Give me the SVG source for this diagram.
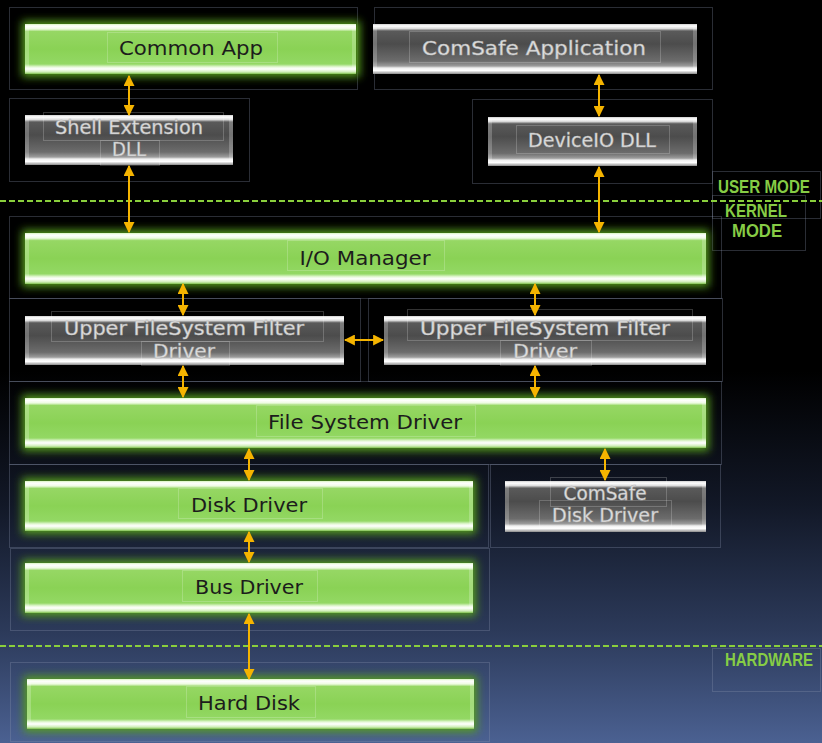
<svg xmlns="http://www.w3.org/2000/svg" width="822" height="743" viewBox="0 0 822 743">
<style>
.frame{fill:none;stroke:#8a96b0;stroke-opacity:0.3;stroke-width:1}
.lf{fill:none;stroke:#ffffff;stroke-opacity:0.2;stroke-width:1}
.gt{font-family:"DejaVu Sans","Open Sans",sans-serif;font-size:20px;fill:#1c1c1c;text-anchor:middle}
.wt{font-family:"DejaVu Sans","Open Sans",sans-serif;font-size:20px;fill:#e2e2e2;stroke:#b0b0b0;stroke-width:0.5;text-anchor:middle}
.mode{font-family:"Liberation Sans Narrow","Liberation Sans",sans-serif;font-weight:bold;font-size:15px;fill:#86cc45;text-anchor:middle}
.dash{stroke:#8acf3c;stroke-width:2;stroke-dasharray:6 3;fill:none}
.arr{stroke:#f5b400;stroke-width:2;fill:none;marker-start:url(#ah);marker-end:url(#ah)}
.glow{fill:#559c1e;filter:url(#blur)}
.edge{fill:#ffffff;fill-opacity:0.22}
</style>
<defs>
<linearGradient id="bg" x1="0" y1="0" x2="0" y2="1">
<stop offset="0" stop-color="#000000"/>
<stop offset="0.5" stop-color="#000000"/>
<stop offset="0.68" stop-color="#121827"/>
<stop offset="0.85" stop-color="#2c3a5a"/>
<stop offset="1" stop-color="#4b6192"/>
</linearGradient>
<linearGradient id="gG" x1="0" y1="0" x2="0" y2="1">
<stop offset="0" stop-color="#d8f5c0"/>
<stop offset="0.04" stop-color="#ffffff"/>
<stop offset="0.10" stop-color="#eefbe2"/>
<stop offset="0.15" stop-color="#96d764"/>
<stop offset="0.5" stop-color="#8ad255"/>
<stop offset="0.8" stop-color="#93d864"/>
<stop offset="0.86" stop-color="#e6f8d8"/>
<stop offset="0.9" stop-color="#ffffff"/>
<stop offset="0.96" stop-color="#d0efb8"/>
<stop offset="1" stop-color="#7dbf4c"/>
</linearGradient>
<linearGradient id="gY" x1="0" y1="0" x2="0" y2="1">
<stop offset="0" stop-color="#cfcfcf"/>
<stop offset="0.04" stop-color="#ffffff"/>
<stop offset="0.09" stop-color="#dedede"/>
<stop offset="0.14" stop-color="#5a5a5a"/>
<stop offset="0.4" stop-color="#4c4c4c"/>
<stop offset="0.74" stop-color="#6c6c6c"/>
<stop offset="0.84" stop-color="#9c9c9c"/>
<stop offset="0.88" stop-color="#f0f0f0"/>
<stop offset="0.93" stop-color="#ffffff"/>
<stop offset="1" stop-color="#8a8a8a"/>
</linearGradient>
<filter id="blur" x="-10%" y="-50%" width="120%" height="200%">
<feGaussianBlur stdDeviation="4"/>
</filter>
<marker id="ah" viewBox="0 0 10 10" markerWidth="11" markerHeight="11" markerUnits="userSpaceOnUse" refX="9" refY="5" orient="auto-start-reverse">
<path d="M0,0 L10,5 L0,10 z" fill="#f5b400"/>
</marker>
</defs>

<rect x="0" y="0" width="822" height="743" fill="url(#bg)"/>

<g id="frames">
<rect class="frame" x="9.5" y="7.5" width="348" height="82"/>
<rect class="frame" x="374.5" y="7.5" width="338" height="82"/>
<rect class="frame" x="9.5" y="98.5" width="240" height="83"/>
<rect class="frame" x="472.5" y="99.5" width="240" height="84"/>
<rect class="frame" x="712.5" y="171.5" width="108" height="47"/>
<rect class="frame" x="712.5" y="195.5" width="93" height="55"/>
<rect class="frame" x="9.5" y="216.5" width="712" height="82"/>
<rect class="frame" x="9.5" y="298.5" width="351" height="83"/>
<rect class="frame" x="368.5" y="298.5" width="354" height="83"/>
<rect class="frame" x="9.5" y="381.5" width="712" height="83"/>
<rect class="frame" x="9.5" y="464.5" width="479" height="83"/>
<rect class="frame" x="490.5" y="464.5" width="230" height="83"/>
<rect class="frame" x="10.5" y="548.5" width="479" height="82"/>
<rect class="frame" x="10.5" y="662.5" width="479" height="79"/>
<rect class="frame" x="712.5" y="648.5" width="108" height="43"/>
</g>

<g id="dividers">
<line class="dash" x1="0" y1="201" x2="822" y2="201"/>
<line class="dash" x1="0" y1="646" x2="822" y2="646"/>
</g>

<g id="labels">
<text class="mode" transform="translate(764,193) scale(1,1.2)" x="0" y="0" textLength="92" lengthAdjust="spacingAndGlyphs">USER MODE</text>
<text class="mode" transform="translate(756,217) scale(1,1.2)" x="0" y="0" textLength="62" lengthAdjust="spacingAndGlyphs">KERNEL</text>
<text class="mode" transform="translate(757,237) scale(1,1.2)" x="0" y="0" textLength="50" lengthAdjust="spacingAndGlyphs">MODE</text>
<text class="mode" transform="translate(769,666) scale(1,1.2)" x="0" y="0" textLength="88" lengthAdjust="spacingAndGlyphs">HARDWARE</text>
</g>

<g id="common-app">
<rect class="glow" x="22" y="21" width="338" height="56"/>
<rect x="25" y="24" width="331" height="50" fill="url(#gG)"/>
<rect class="edge" x="25" y="27" width="4" height="43"/><rect class="edge" x="352" y="27" width="4" height="43"/>
<rect class="lf" x="107.5" y="32.5" width="170" height="30"/>
<text class="gt" x="191" y="55" textLength="144" lengthAdjust="spacingAndGlyphs">Common App</text>
</g>

<g id="comsafe-app">
<rect x="373" y="24" width="324" height="50" fill="url(#gY)"/>
<rect class="edge" x="373" y="27" width="4" height="43"/><rect class="edge" x="693" y="27" width="4" height="43"/>
<rect class="lf" x="409.5" y="31.5" width="251" height="31"/>
<text class="wt" x="534" y="55" textLength="224" lengthAdjust="spacingAndGlyphs">ComSafe Application</text>
</g>

<g id="shell-ext">
<rect x="25" y="115" width="208" height="50" fill="url(#gY)"/>
<rect class="edge" x="25" y="118" width="4" height="43"/><rect class="edge" x="229" y="118" width="4" height="43"/>
<rect class="lf" x="43.5" y="112.5" width="180" height="28"/>
<rect class="lf" x="100.5" y="140.5" width="59" height="25"/>
<text class="wt" x="129" y="134" textLength="148" lengthAdjust="spacingAndGlyphs">Shell Extension</text>
<text class="wt" x="129" y="156" textLength="34" lengthAdjust="spacingAndGlyphs">DLL</text>
</g>

<g id="deviceio-dll">
<rect x="488" y="117" width="209" height="49" fill="url(#gY)"/>
<rect class="edge" x="488" y="120" width="4" height="42"/><rect class="edge" x="693" y="120" width="4" height="42"/>
<rect class="lf" x="516.5" y="125.5" width="153" height="28"/>
<text class="wt" x="592" y="147" textLength="128" lengthAdjust="spacingAndGlyphs">DeviceIO DLL</text>
</g>

<g id="io-manager">
<rect class="glow" x="22" y="230" width="687" height="57"/>
<rect x="25" y="233" width="681" height="51" fill="url(#gG)"/>
<rect class="edge" x="25" y="236" width="4" height="44"/><rect class="edge" x="702" y="236" width="4" height="44"/>
<rect class="lf" x="287.5" y="240.5" width="157" height="30"/>
<text class="gt" x="365" y="265" textLength="131" lengthAdjust="spacingAndGlyphs">I/O Manager</text>
</g>

<g id="upper-filter-left">
<rect x="25" y="316" width="319" height="49" fill="url(#gY)"/>
<rect class="edge" x="25" y="319" width="4" height="42"/><rect class="edge" x="340" y="319" width="4" height="42"/>
<rect class="lf" x="51.5" y="311.5" width="272" height="30"/>
<rect class="lf" x="141.5" y="341.5" width="88" height="24"/>
<text class="wt" x="184" y="335" textLength="240" lengthAdjust="spacingAndGlyphs">Upper FileSystem Filter</text>
<text class="wt" x="184" y="358" textLength="62" lengthAdjust="spacingAndGlyphs">Driver</text>
</g>

<g id="upper-filter-right">
<rect x="384" y="316" width="322" height="49" fill="url(#gY)"/>
<rect class="edge" x="384" y="319" width="4" height="42"/><rect class="edge" x="702" y="319" width="4" height="42"/>
<rect class="lf" x="407.5" y="309.5" width="285" height="31"/>
<rect class="lf" x="500.5" y="340.5" width="91" height="25"/>
<text class="wt" x="545" y="335" textLength="250" lengthAdjust="spacingAndGlyphs">Upper FileSystem Filter</text>
<text class="wt" x="545" y="358" textLength="64" lengthAdjust="spacingAndGlyphs">Driver</text>
</g>

<g id="file-system-driver">
<rect class="glow" x="22" y="395" width="687" height="56"/>
<rect x="25" y="398" width="681" height="50" fill="url(#gG)"/>
<rect class="edge" x="25" y="401" width="4" height="43"/><rect class="edge" x="702" y="401" width="4" height="43"/>
<rect class="lf" x="256.5" y="405.5" width="219" height="31"/>
<text class="gt" x="365" y="429" textLength="194" lengthAdjust="spacingAndGlyphs">File System Driver</text>
</g>

<g id="disk-driver">
<rect class="glow" x="22" y="478" width="454" height="56"/>
<rect x="25" y="481" width="448" height="50" fill="url(#gG)"/>
<rect class="edge" x="25" y="484" width="4" height="43"/><rect class="edge" x="469" y="484" width="4" height="43"/>
<rect class="lf" x="178.5" y="488.5" width="144" height="30"/>
<text class="gt" x="249" y="512" textLength="116" lengthAdjust="spacingAndGlyphs">Disk Driver</text>
</g>

<g id="comsafe-disk-driver">
<rect x="505" y="481" width="201" height="51" fill="url(#gY)"/>
<rect class="edge" x="505" y="484" width="4" height="44"/><rect class="edge" x="702" y="484" width="4" height="44"/>
<rect class="lf" x="550.5" y="477.5" width="116" height="29"/>
<rect class="lf" x="539.5" y="500.5" width="132" height="27"/>
<text class="wt" x="605" y="500" textLength="83" lengthAdjust="spacingAndGlyphs">ComSafe</text>
<text class="wt" x="605" y="522" textLength="106" lengthAdjust="spacingAndGlyphs">Disk Driver</text>
</g>

<g id="bus-driver">
<rect class="glow" x="22" y="560" width="454" height="56"/>
<rect x="25" y="563" width="448" height="50" fill="url(#gG)"/>
<rect class="edge" x="25" y="566" width="4" height="43"/><rect class="edge" x="469" y="566" width="4" height="43"/>
<rect class="lf" x="182.5" y="570.5" width="135" height="31"/>
<text class="gt" x="249" y="594" textLength="108" lengthAdjust="spacingAndGlyphs">Bus Driver</text>
</g>

<g id="hard-disk">
<rect class="glow" x="24" y="676" width="453" height="56"/>
<rect x="27" y="679" width="447" height="50" fill="url(#gG)"/>
<rect class="edge" x="27" y="682" width="4" height="43"/><rect class="edge" x="470" y="682" width="4" height="43"/>
<rect class="lf" x="186.5" y="686.5" width="129" height="31"/>
<text class="gt" x="249" y="710" textLength="102" lengthAdjust="spacingAndGlyphs">Hard Disk</text>
</g>

<g id="connectors">
<line class="arr" x1="129" y1="76" x2="129" y2="115"/>
<line class="arr" x1="129" y1="166" x2="129" y2="232"/>
<line class="arr" x1="599" y1="75" x2="599" y2="116"/>
<line class="arr" x1="599" y1="167" x2="599" y2="232"/>
<line class="arr" x1="183" y1="284" x2="183" y2="315"/>
<line class="arr" x1="183" y1="366" x2="183" y2="397"/>
<line class="arr" x1="535" y1="284" x2="535" y2="315"/>
<line class="arr" x1="535" y1="366" x2="535" y2="397"/>
<line class="arr" x1="345" y1="340" x2="383" y2="340"/>
<line class="arr" x1="249" y1="449" x2="249" y2="480"/>
<line class="arr" x1="249" y1="532" x2="249" y2="562"/>
<line class="arr" x1="249" y1="614" x2="249" y2="679"/>
<line class="arr" x1="605" y1="449" x2="605" y2="480"/>
</g>
</svg>
